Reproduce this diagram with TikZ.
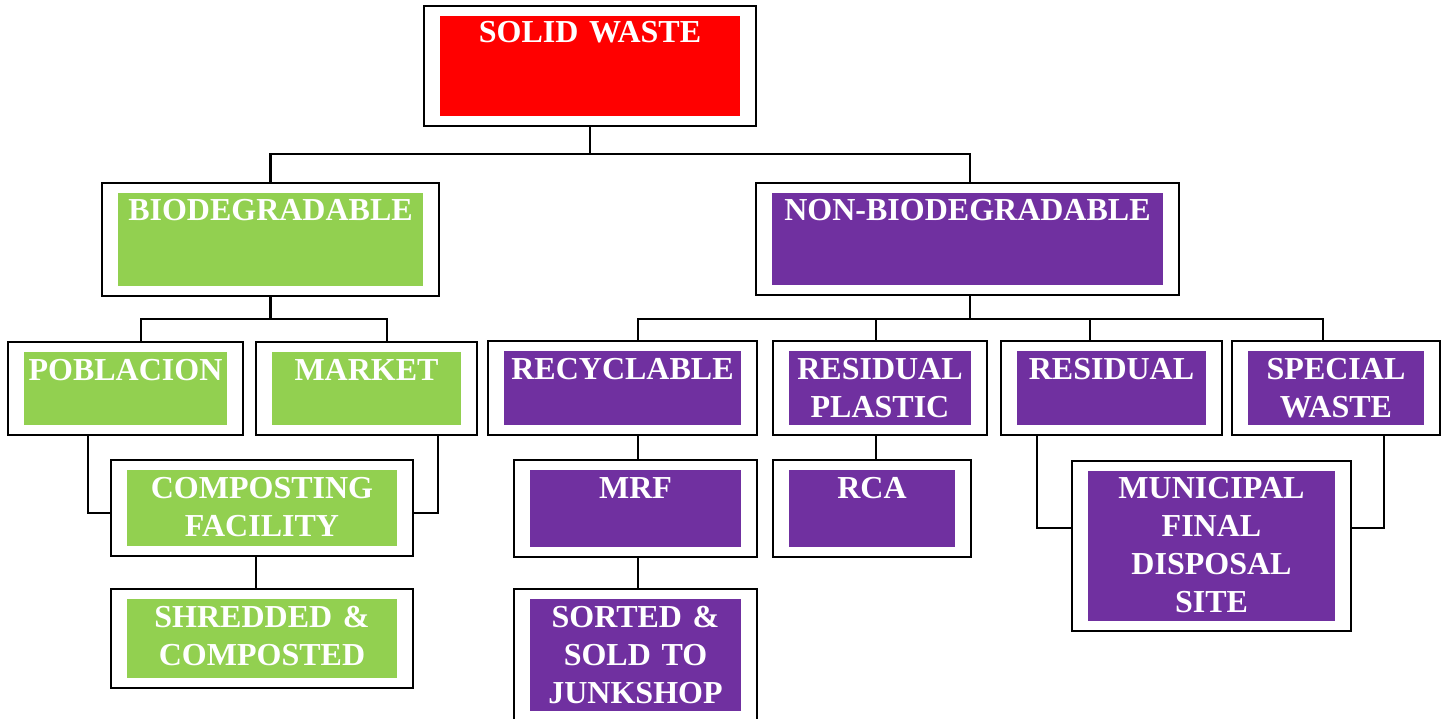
\documentclass[tikz,border=0pt]{standalone}
\usepackage{fontspec}
\setmainfont{Liberation Serif}
\definecolor{cred}{HTML}{FF0000}
\definecolor{cgreen}{HTML}{92D050}
\definecolor{cpurple}{HTML}{7030A0}
\tikzset{
  wbox/.style={draw=black, line width=2.2pt, fill=white, rectangle, inner sep=0pt,
    path picture={\fill[#1] ([xshift=16pt,yshift=10pt]path picture bounding box.south west)
      rectangle ([xshift=-16pt,yshift=-10pt]path picture bounding box.north east);}},
  txt/.style={anchor=base, text=white, inner sep=0pt, align=center, text width=430pt,
    font=\fontsize{32}{38}\selectfont\bfseries},
  conn/.style={draw=black, line width=2.2pt}
}
\begin{document}
\begin{tikzpicture}[x=1pt, y=-1pt]
\useasboundingbox (0,0) rectangle (1447,719);
% boxes
\node[wbox=cred, minimum width=332pt, minimum height=120pt] (solid) at (590,66) {};
\node[wbox=cgreen, minimum width=337pt, minimum height=113pt] (bio) at (270.5,239.5) {};
\node[wbox=cpurple, minimum width=423pt, minimum height=112pt] (non) at (967.5,239) {};
\node[wbox=cgreen, minimum width=235pt, minimum height=93pt] (pob) at (125.5,388.5) {};
\node[wbox=cgreen, minimum width=221pt, minimum height=93pt] (mkt) at (366.5,388.5) {};
\node[wbox=cgreen, minimum width=302pt, minimum height=96pt] (comp) at (262,508) {};
\node[wbox=cgreen, minimum width=302pt, minimum height=99pt] (shr) at (262,638.5) {};
\node[wbox=cpurple, minimum width=269pt, minimum height=94pt] (rec) at (622.5,388) {};
\node[wbox=cpurple, minimum width=214pt, minimum height=94pt] (rp) at (880,388) {};
\node[wbox=cpurple, minimum width=221pt, minimum height=94pt] (res) at (1111.5,388) {};
\node[wbox=cpurple, minimum width=208pt, minimum height=94pt] (spe) at (1336,388) {};
\node[wbox=cpurple, minimum width=243pt, minimum height=97pt] (mrf) at (635.5,508.5) {};
\node[wbox=cpurple, minimum width=198pt, minimum height=97pt] (rca) at (872,508.5) {};
\node[wbox=cpurple, minimum width=243pt, minimum height=132pt] (sor) at (635.5,655) {};
\node[wbox=cpurple, minimum width=279pt, minimum height=170pt] (mun) at (1211.5,546) {};
% texts
\node[txt] (t-solid) at (590,43) {SOLID WASTE};
\node[txt] (t-bio) at (270.5,221) {BIODEGRADABLE};
\node[txt] (t-non) at (967.5,221) {NON-BIODEGRADABLE};
\node[txt] (t-pob) at (125.5,380) {POBLACION};
\node[txt] (t-mkt) at (366.5,380) {MARKET};
\node[txt] (t-comp) at (262,498) {COMPOSTING\\FACILITY};
\node[txt] (t-shr) at (262,627) {SHREDDED \&\\COMPOSTED};
\node[txt] (t-rec) at (622.5,379) {RECYCLABLE};
\node[txt] (t-rp) at (880,379) {RESIDUAL\\PLASTIC};
\node[txt] (t-res) at (1111.5,379) {RESIDUAL};
\node[txt] (t-spe) at (1336,379) {SPECIAL\\WASTE};
\node[txt] (t-mrf) at (635.5,498) {MRF};
\node[txt] (t-rca) at (872,498) {RCA};
\node[txt] (t-sor) at (635.5,627) {SORTED \&\\SOLD TO\\JUNKSHOP};
\node[txt] (t-mun) at (1211.5,498) {MUNICIPAL\\FINAL\\DISPOSAL\\SITE};
% connectors
\draw[conn] (solid.south) -- ++(0,27) coordinate (j1);
\draw[conn] (bio.north) |- (j1) -| ([xshift=2.5pt]non.north);
\draw[conn] (bio.south) -- ++(0,22) coordinate (j2);
\draw[conn] ([xshift=15.5pt]pob.north) |- (j2) -| ([xshift=20.5pt]mkt.north);
\draw[conn] ([xshift=-37.5pt]pob.south) |- ([yshift=-5pt]comp.west);
\draw[conn] ([xshift=71.5pt]mkt.south) |- ([yshift=-5pt]comp.east);
\draw[conn] ([xshift=-6pt]comp.south) -- ([xshift=-6pt]shr.north);
\draw[conn] ([xshift=2.5pt]non.south) -- ++(0,23) coordinate (j3);
\draw[conn] ([xshift=15.5pt]rec.north) |- (j3) -| ([xshift=-4pt]rp.north);
\draw[conn] ([xshift=-21.5pt]res.north) |- (j3) -| ([xshift=-13pt]spe.north);
\draw[conn] ([xshift=15.5pt]rec.south) -- ([xshift=2.5pt]mrf.north);
\draw[conn] ([xshift=2.5pt]mrf.south) -- ([xshift=2.5pt]sor.north);
\draw[conn] ([xshift=-4pt]rp.south) -- ([xshift=4pt]rca.north);
\draw[conn] ([xshift=-74.5pt]res.south) |- ([yshift=18pt]mun.west);
\draw[conn] ([xshift=48pt]spe.south) |- ([yshift=18pt]mun.east);
\end{tikzpicture}
\end{document}
